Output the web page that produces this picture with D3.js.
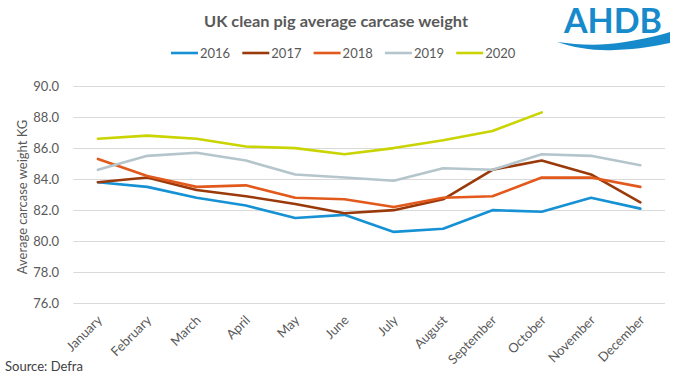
<!DOCTYPE html>
<html>
<head>
<meta charset="utf-8">
<script src="https://cdn.jsdelivr.net/npm/d3@7"></script>
<style>
  html, body { margin: 0; padding: 0; background: #ffffff; }
  svg { display: block; }
  text { font-family: Lato, "Open Sans", sans-serif; }
</style>
</head>
<body>
<svg id="chart" width="673" height="378"></svg>
<script>
const months = ["January","February","March","April","May","June","July","August","September","October","November","December"];
const years = ["2016","2017","2018","2019","2020"];
const s2016 = [83.8, 83.5, 82.8, 82.3, 81.5, 81.7, 80.6, 80.8, 82.0, 81.9, 82.8, 82.1];
const s2017 = [83.8, 84.1, 83.3, 82.9, 82.4, 81.8, 82.0, 82.7, 84.6, 85.2, 84.3, 82.5];
const s2018 = [85.3, 84.2, 83.5, 83.6, 82.8, 82.7, 82.2, 82.8, 82.9, 84.1, 84.1, 83.5];
const s2019 = [84.6, 85.5, 85.7, 85.2, 84.3, 84.1, 83.9, 84.7, 84.6, 85.6, 85.5, 84.9];
const s2020 = [86.6, 86.8, 86.6, 86.1, 86.0, 85.6, 86.0, 86.5, 87.1, 88.3];
const yTicks = [76, 78, 80, 82, 84, 86, 88, 90];
const colors = ["#1591D4", "#9A3A0B", "#E2591C", "#B4C5CC", "#C9D400"];

const seriesList = [s2016, s2017, s2018, s2019, s2020];

const svg = d3.select("#chart");
const x = d3.scaleBand().domain(months).range([73.3, 665]);
const y = d3.scaleLinear().domain([76, 90]).range([303.3, 86]);
const cx = m => x(m) + x.bandwidth() / 2;

// gridlines
svg.append("g").selectAll("line").data(yTicks).join("line")
  .attr("x1", 73.3).attr("x2", 665)
  .attr("y1", d => Math.round(y(d)) + 0.5).attr("y2", d => Math.round(y(d)) + 0.5)
  .attr("stroke", "#d9d9d9").attr("stroke-width", 1);

// y tick labels
svg.append("g").selectAll("text").data(yTicks).join("text")
  .attr("x", 59).attr("y", d => y(d)).attr("dy", "0.35em")
  .attr("text-anchor", "end").attr("font-size", 13).attr("fill", "#595959")
  .text(d => d.toFixed(1));

// x tick labels
svg.append("g").selectAll("text").data(months).join("text")
  .attr("transform", d => `translate(${cx(d) + 5},${321}) rotate(-45)`)
  .attr("text-anchor", "end").attr("font-size", 13).attr("fill", "#595959")
  .text(d => d);

// y axis title
svg.append("text")
  .attr("transform", "translate(22,197) rotate(-90)")
  .attr("text-anchor", "middle").attr("dy", "0.35em")
  .attr("font-size", 13).attr("fill", "#595959")
  .text("Average carcase weight KG");

// lines
const line = d3.line().x((d, i) => cx(months[i])).y(d => y(d));
svg.append("g").selectAll("path").data(seriesList).join("path")
  .attr("d", d => line(d))
  .attr("fill", "none")
  .attr("stroke", (d, i) => colors[i])
  .attr("stroke-width", 2.6)
  .attr("stroke-linejoin", "round")
  .attr("stroke-linecap", "round");

// title
svg.append("text")
  .attr("x", 336).attr("y", 26.5)
  .attr("text-anchor", "middle").attr("font-size", 15.5).attr("font-weight", "bold")
  .attr("fill", "#595959")
  .attr("textLength", 264).attr("lengthAdjust", "spacingAndGlyphs")
  .text("UK clean pig average carcase weight");

// legend
const lg = svg.append("g").selectAll("g").data(years).join("g")
  .attr("transform", (d, i) => `translate(${171 + i * 71.3},53)`);
lg.append("line").attr("x1", 0).attr("x2", 27).attr("y1", 0).attr("y2", 0)
  .attr("stroke", (d, i) => colors[i]).attr("stroke-width", 2.6);
lg.append("text").attr("x", 29).attr("dy", "0.35em")
  .attr("font-size", 13).attr("fill", "#595959").text(d => d);

// source
svg.append("text").attr("x", 5).attr("y", 371)
  .attr("font-size", 13).attr("fill", "#404040").text("Source: Defra");

// logo
const logo = svg.append("g");
logo.append("text").attr("x", 564).attr("y", 33)
  .attr("font-family", "'Liberation Sans', Arial, sans-serif")
  .attr("font-size", 34).attr("font-weight", "bold").attr("fill", "#168ACB")
  .attr("textLength", 98).attr("lengthAdjust", "spacingAndGlyphs")
  .text("AHDB");
logo.append("path")
  .attr("d", "M557,42 C580,45 600,46 625,42 C645,39 660,35 670,32 L670,43 C655,46 640,49 615,50 C595,51 575,48 557,42 Z")
  .attr("fill", "#168ACB");
</script>
</body>
</html>
